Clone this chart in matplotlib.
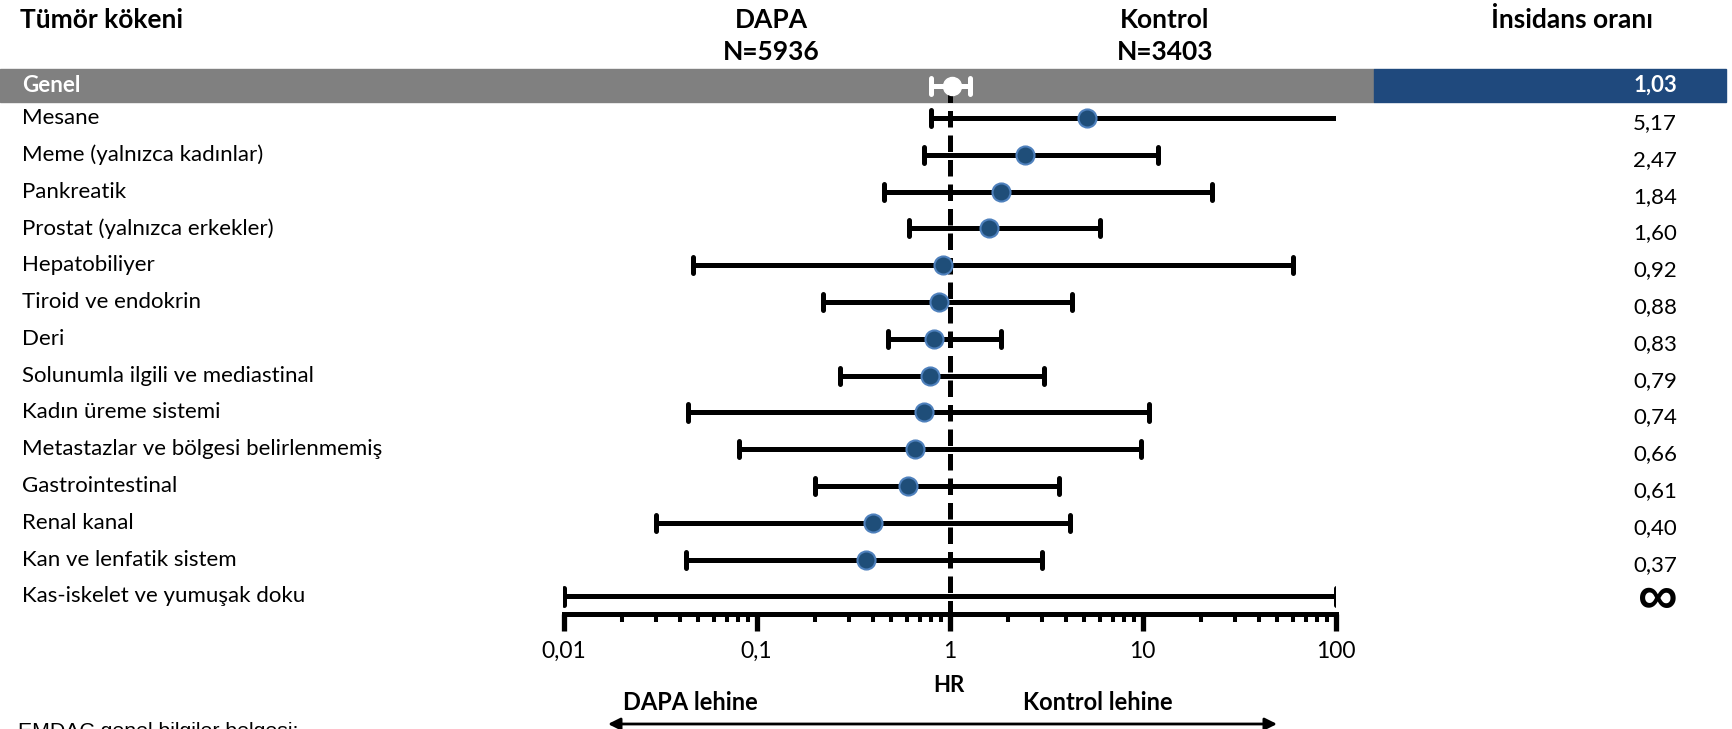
import numpy as np
import matplotlib
matplotlib.use('Agg')
import matplotlib.pyplot as plt
from matplotlib import ticker, transforms
from matplotlib.patches import Rectangle

plt.rcParams['font.family'] = ['Lato', 'DejaVu Sans']

# data
categories = ['Genel', 'Mesane', 'Meme (yalnızca kadınlar)', 'Pankreatik',
              'Prostat (yalnızca erkekler)', 'Hepatobiliyer', 'Tiroid ve endokrin',
              'Deri', 'Solunumla ilgili ve mediastinal', 'Kadın üreme sistemi',
              'Metastazlar ve bölgesi belirlenmemiş', 'Gastrointestinal',
              'Renal kanal', 'Kan ve lenfatik sistem', 'Kas-iskelet ve yumuşak doku']
incidence_ratio = [1.03, 5.17, 2.47, 1.84, 1.60, 0.92, 0.88, 0.83, 0.79, 0.74,
                   0.66, 0.61, 0.40, 0.37, np.inf]
ci_lower = [0.80, 0.80, 0.74, 0.46, 0.62, 0.047, 0.22, 0.48, 0.27, 0.044,
            0.081, 0.20, 0.030, 0.043, 0.01]
ci_upper = [1.27, 107, 12.1, 23, 6.0, 60, 4.3, 1.85, 3.1, 10.8,
            9.8, 3.7, 4.2, 3.0, 100]
xticks = [0.01, 0.1, 1, 10, 100]
xtick_labels = ['0,01', '0,1', '1', '10', '100']
groups = ['DAPA', 'Kontrol']
group_n = ['N=5936', 'N=3403']

W, H = 1733, 729
fig = plt.figure(figsize=(W / 100, H / 100), dpi=100)


def fx(px):
    return px / W


def fy(py):
    return 1 - py / H


ax = fig.add_axes([fx(563.5), fy(614), fx(1335.5) - fx(563.5), fy(0) - fy(614)])
ax.patch.set_visible(False)
ax.set_xscale('log')
ax.set_xlim(0.01, 100)
ybot, ytop = 14.478, -2.2065
ax.set_ylim(ybot, ytop)

rows = np.arange(len(categories), dtype=float)
rows[0] = 0.12  # Genel row sits a bit lower inside its band

tr = transforms.blended_transform_factory(fig.transFigure, ax.transData)

# header band for the overall row
ax.add_patch(Rectangle((0, -0.33), fx(1374), 0.895, transform=tr,
                       color='#808080', clip_on=False, zorder=0))
ax.add_patch(Rectangle((fx(1374), -0.33), fx(1726) - fx(1374), 0.895, transform=tr,
                       color='#1F497D', clip_on=False, zorder=0))

# reference line at HR = 1
ax.plot([1, 1], [rows[0], ybot], color='black', lw=3.6, dashes=(3.3, 1.6),
        zorder=2, solid_capstyle='butt')

cap = 0.22
for i, (lo, hi, y) in enumerate(zip(ci_lower, ci_upper, rows)):
    c = 'white' if i == 0 else 'black'
    ax.hlines(y, lo, hi, colors=c, lw=3.6, zorder=3)
    ax.vlines([lo, hi], y - cap, y + cap, colors=c, lw=3.6, zorder=3,
              capstyle='round')

ir = np.array(incidence_ratio)
fin = np.isfinite(ir)
ax.plot(ir[1:][fin[1:]], rows[1:][fin[1:]], 'o', ms=13, mfc='#1F4E79',
        mec='#4F81BD', mew=1.5, zorder=4)
ax.plot(ir[0], rows[0], 'o', ms=13, mfc='white', mec='white', zorder=4)

# axis styling
for s in ['top', 'left', 'right']:
    ax.spines[s].set_visible(False)
ax.spines['bottom'].set_linewidth(3.6)
ax.set_yticks([])
ax.set_xticks(xticks)
ax.set_xticklabels(xtick_labels)
ax.xaxis.set_minor_locator(ticker.LogLocator(base=10, subs=np.arange(2, 10)))
ax.xaxis.set_minor_formatter(ticker.NullFormatter())
ax.tick_params(axis='x', which='major', length=12.5, width=3.8, labelsize=16.5, pad=7)
ax.tick_params(axis='x', which='minor', length=6, width=2.9)

# row labels and incidence ratio column
fs = 16
val_tr = transforms.offset_copy(tr, fig=fig, y=-5, units='dots')
inf_tr = transforms.offset_copy(tr, fig=fig, y=-4, units='dots')
for i, (name, v, y) in enumerate(zip(categories, incidence_ratio, rows)):
    if i == 0:
        ax.text(fx(22), y, name, transform=tr, va='center', fontsize=fs,
                color='white', weight='bold')
        ax.text(fx(1677), y, f'{v:.2f}'.replace('.', ','), transform=tr,
                va='center', ha='right', fontsize=fs, color='white', weight='bold')
        continue
    ax.text(fx(22), y, name, transform=tr, va='center', fontsize=fs)
    if np.isfinite(v):
        ax.text(fx(1677), y, f'{v:.2f}'.replace('.', ','), transform=val_tr,
                va='center', ha='right', fontsize=fs)
    else:
        ax.text(fx(1677), y, '∞', transform=inf_tr, va='center', ha='right',
                fontsize=40, weight='bold', family=['Liberation Sans', 'DejaVu Sans'])

# headers
hs = 19
fig.text(fx(20), fy(20), 'Tümör kökeni', weight='bold', fontsize=hs, va='center')
for gx, g, n in zip([771, 1165], groups, group_n):
    fig.text(fx(gx), fy(20), g, weight='bold', fontsize=hs, va='center', ha='center')
    fig.text(fx(gx), fy(52), n, weight='bold', fontsize=hs, va='center', ha='center')
fig.text(fx(1572), fy(20), 'İnsidans oranı', weight='bold', fontsize=hs,
         va='center', ha='center')

# bottom annotations
fig.text(fx(949), fy(686), 'HR', weight='bold', fontsize=16, va='center', ha='center')
fig.text(fx(623), fy(703), 'DAPA lehine', weight='bold', fontsize=17, va='center')
fig.text(fx(1023), fy(703), 'Kontrol lehine', weight='bold', fontsize=17, va='center')
ax.annotate('', xy=(608, H - 724), xytext=(1277, H - 724),
            xycoords='figure pixels', textcoords='figure pixels',
            arrowprops=dict(arrowstyle='<|-|>', lw=2, color='black',
                            mutation_scale=18, shrinkA=0, shrinkB=0))
fig.text(fx(18), fy(722), 'EMDAC genel bilgiler belgesi:', family='Liberation Sans',
         fontsize=15.3, va='top')

fig.savefig('out.png', dpi=100)
